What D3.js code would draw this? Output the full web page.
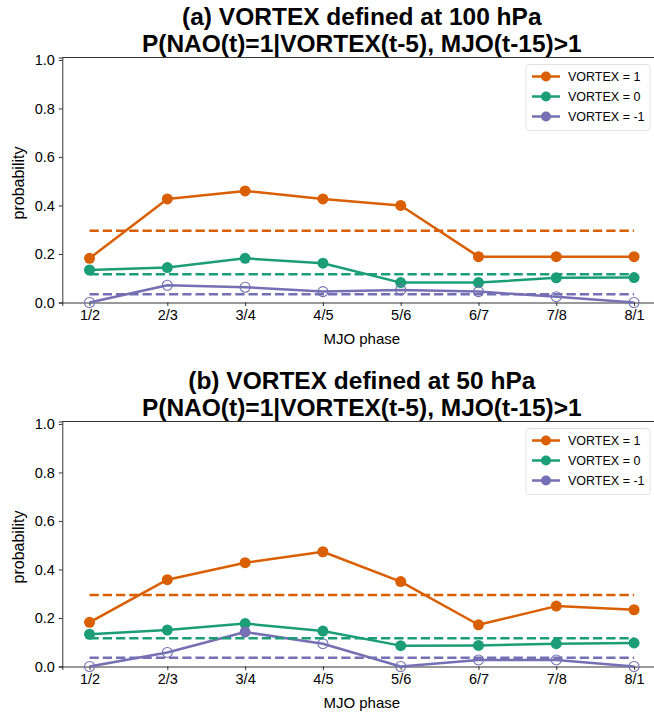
<!DOCTYPE html>
<html>
<head>
<meta charset="utf-8">
<script src="https://cdn.jsdelivr.net/npm/d3@7"></script>
<style>
  body { margin: 0; background: #fff; }
  svg { display: block; font-family: "Liberation Sans", Arial, sans-serif; }
</style>
</head>
<body>
<svg id="chart" width="654" height="715"></svg>
<script>
// ---- Data ----
const phases = ["1/2", "2/3", "3/4", "4/5", "5/6", "6/7", "7/8", "8/1"];
const yTicks = [0, 0.2, 0.4, 0.6, 0.8, 1.0];
const seriesNames = ["VORTEX = 1", "VORTEX = 0", "VORTEX = -1"];

// Panel (a): 100 hPa
const a_vortexPos = [0.182, 0.427, 0.460, 0.427, 0.400, 0.189, 0.189, 0.189];
const a_vortexZero = [0.134, 0.144, 0.182, 0.162, 0.082, 0.082, 0.102, 0.103];
const a_vortexNeg = [0.0, 0.071, 0.063, 0.045, 0.052, 0.045, 0.024, 0.0];
const a_vortexNegFilled = [false, false, false, false, false, false, false, false];
const a_baseline = [0.296, 0.116, 0.034];

// Panel (b): 50 hPa
const b_vortexPos = [0.182, 0.358, 0.428, 0.473, 0.350, 0.172, 0.249, 0.234];
const b_vortexZero = [0.133, 0.150, 0.177, 0.146, 0.086, 0.087, 0.094, 0.097];
const b_vortexNeg = [0.0, 0.058, 0.142, 0.094, 0.0, 0.027, 0.027, 0.0];
const b_vortexNegFilled = [false, false, true, false, false, false, false, false];
const b_baseline = [0.295, 0.116, 0.036];

const colors = ["#d95f02", "#1b9e77", "#7570b3"];

const panels = [
  { title1: "(a) VORTEX defined at 100 hPa",
    title2: "P(NAO(t)=1|VORTEX(t-5), MJO(t-15)>1",
    series: [a_vortexPos, a_vortexZero, a_vortexNeg],
    filled: [null, null, a_vortexNegFilled],
    baseline: a_baseline, top: 57.5, bottom: 302.5 },
  { title1: "(b) VORTEX defined at 50 hPa",
    title2: "P(NAO(t)=1|VORTEX(t-5), MJO(t-15)>1",
    series: [b_vortexPos, b_vortexZero, b_vortexNeg],
    filled: [null, null, b_vortexNegFilled],
    baseline: b_baseline, top: 421.5, bottom: 666.5 }
];

const svg = d3.select("#chart");
const left = 62.3, right = 661.3;

panels.forEach(p => {
  const g = svg.append("g");
  const x = d3.scaleLinear().domain([-0.35, 7.35]).range([left, right]);
  const y = d3.scaleLinear().domain([0, 1.01]).range([p.bottom, p.top]);

  // titles
  const cx = (left + right) / 2;
  g.append("text").attr("x", cx).attr("y", p.top - 33)
    .attr("text-anchor", "middle").attr("font-size", 24.5).attr("font-weight", "bold")
    .text(p.title1);
  g.append("text").attr("x", cx).attr("y", p.top - 6)
    .attr("text-anchor", "middle").attr("font-size", 24.5).attr("font-weight", "bold")
    .text(p.title2);

  // axes
  const xAxis = d3.axisBottom(x).tickValues(d3.range(phases.length))
    .tickFormat(i => phases[i]).tickSizeOuter(0).tickSize(3.5).tickPadding(4);
  const gx = g.append("g").attr("transform", `translate(0,${p.bottom})`).call(xAxis);
  const yAxis = d3.axisLeft(y).tickValues(yTicks).tickFormat(d3.format(".1f"))
    .tickSizeOuter(0).tickSize(3.5).tickPadding(4);
  const gy = g.append("g").attr("transform", `translate(${left},0)`).call(yAxis);
  [gx, gy].forEach(ax => {
    ax.selectAll("text").attr("font-size", 14.5).attr("fill", "#000")
      .attr("font-family", "Liberation Sans, Arial, sans-serif");
    ax.selectAll("line").attr("stroke", "#000").attr("stroke-width", 0.8);
    ax.select(".domain").attr("stroke", "#000").attr("stroke-width", 0.8);
  });
  // top / right spines
  g.append("line").attr("x1", left).attr("x2", right).attr("y1", p.top).attr("y2", p.top)
    .attr("stroke", "#000").attr("stroke-width", 0.8);
  g.append("line").attr("x1", right).attr("x2", right).attr("y1", p.top).attr("y2", p.bottom)
    .attr("stroke", "#000").attr("stroke-width", 0.8);

  g.append("text").attr("x", cx).attr("y", p.bottom + 41)
    .attr("text-anchor", "middle").attr("font-size", 15).text("MJO phase");
  g.append("text").attr("transform", `translate(${left - 38},${(p.top + p.bottom) / 2 + 3}) rotate(-90)`)
    .attr("text-anchor", "middle").attr("font-size", 16).text("probability");

  const clip = g.append("g");
  const line = d3.line().x((d, i) => x(i)).y(d => y(d));

  p.series.forEach((s, k) => {
    clip.append("path").datum(s).attr("d", line)
      .attr("fill", "none").attr("stroke", colors[k]).attr("stroke-width", 2.5)
      .attr("stroke-linejoin", "round");
    clip.selectAll(null).data(s).enter().append("circle")
      .attr("cx", (d, i) => x(i)).attr("cy", d => y(d))
      .attr("r", (d, i) => (p.filled[k] && !p.filled[k][i]) ? 5 : 5.5)
      .attr("fill", (d, i) => (p.filled[k] && !p.filled[k][i]) ? "none" : colors[k])
      .attr("stroke", colors[k])
      .attr("stroke-width", (d, i) => (p.filled[k] && !p.filled[k][i]) ? 1.1 : 0);
  });
  p.baseline.forEach((b, k) => {
    clip.append("line").attr("x1", x(0)).attr("x2", x(phases.length - 1))
      .attr("y1", y(b)).attr("y2", y(b))
      .attr("stroke", colors[k]).attr("stroke-width", 2.5)
      .attr("stroke-dasharray", "9.25,4");
  });

  // legend
  const lx = 526, ly = p.top + 7, lw = 124, lh = 66;
  const lg = g.append("g");
  lg.append("rect").attr("x", lx).attr("y", ly).attr("width", lw).attr("height", lh)
    .attr("rx", 3).attr("fill", "#fff").attr("fill-opacity", 0.8)
    .attr("stroke", "#d9d9d9").attr("stroke-width", 0.8);
  seriesNames.forEach((nm, k) => {
    const yy = ly + 12 + k * 20;
    lg.append("line").attr("x1", lx + 6).attr("x2", lx + 34).attr("y1", yy).attr("y2", yy)
      .attr("stroke", colors[k]).attr("stroke-width", 2.5);
    lg.append("circle").attr("cx", lx + 20).attr("cy", yy).attr("r", 5).attr("fill", colors[k]);
    lg.append("text").attr("x", lx + 42).attr("y", yy + 4.5).attr("font-size", 12.5)
      .text(nm);
  });
});
</script>
</body>
</html>
